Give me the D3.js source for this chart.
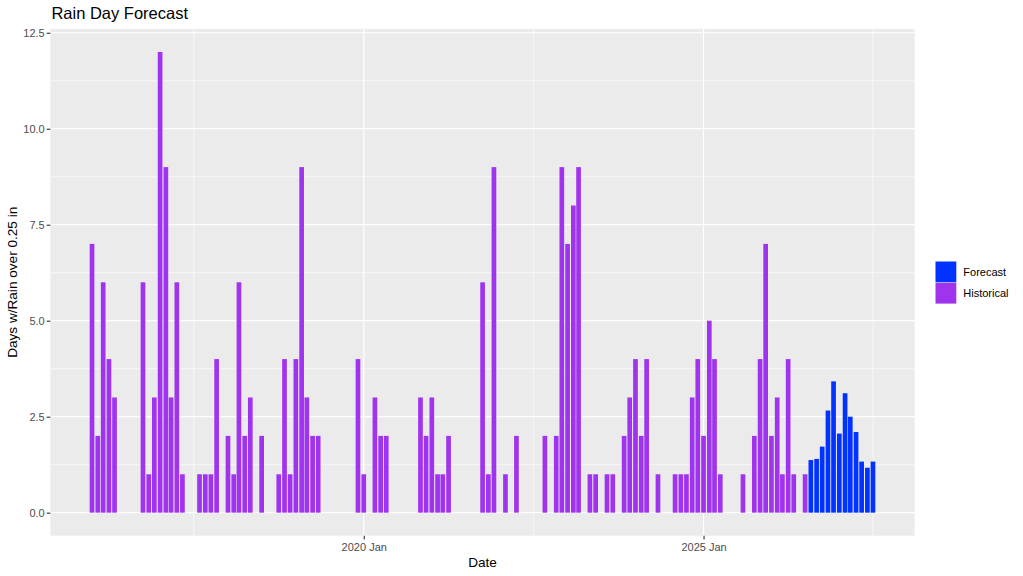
<!DOCTYPE html>
<html>
<head>
<meta charset="utf-8">
<script src="https://cdn.jsdelivr.net/npm/d3@7"></script>
<style>
  body { margin: 0; background: #fff; }
  text { font-family: "Liberation Sans", Arial, sans-serif; }
</style>
</head>
<body>
<div id="chart"></div>
<script>
// monthly rain-day counts
const histMonths = [
  "2016-01", "2016-02", "2016-03", "2016-04", "2016-05",
  "2016-10", "2016-11", "2016-12", "2017-01", "2017-02", "2017-03", "2017-04", "2017-05",
  "2017-08", "2017-09", "2017-10", "2017-11",
  "2018-01", "2018-02", "2018-03", "2018-04", "2018-05",
  "2018-07",
  "2018-10", "2018-11", "2018-12", "2019-01", "2019-02", "2019-03", "2019-04", "2019-05",
  "2019-12", "2020-01",
  "2020-03", "2020-04", "2020-05",
  "2020-11", "2020-12", "2021-01", "2021-02", "2021-03", "2021-04",
  "2021-10", "2021-11", "2021-12",
  "2022-02",
  "2022-04",
  "2022-09",
  "2022-11", "2022-12", "2023-01", "2023-02", "2023-03",
  "2023-05", "2023-06",
  "2023-08", "2023-09",
  "2023-11", "2023-12", "2024-01", "2024-02", "2024-03",
  "2024-05",
  "2024-08", "2024-09", "2024-10", "2024-11", "2024-12", "2025-01", "2025-02", "2025-03", "2025-04",
  "2025-08",
  "2025-10", "2025-11", "2025-12", "2026-01", "2026-02", "2026-03", "2026-04", "2026-05",
  "2026-07"
];
const histValues = [
  7, 2, 6, 4, 3,
  6, 1, 3, 12, 9, 3, 6, 1,
  1, 1, 1, 4,
  2, 1, 6, 2, 3,
  2,
  1, 4, 1, 4, 9, 3, 2, 2,
  4, 1,
  3, 2, 2,
  3, 2, 3, 1, 1, 2,
  6, 1, 9,
  1,
  2,
  2,
  2, 9, 7, 8, 9,
  1, 1,
  1, 1,
  2, 3, 4, 2, 4,
  1,
  1, 1, 1, 3, 4, 2, 5, 4, 1,
  1,
  2, 4, 7, 2, 3, 1, 4, 1,
  1
];
const forecastMonths = [
  "2026-08", "2026-09", "2026-10", "2026-11", "2026-12", "2027-01",
  "2027-02", "2027-03", "2027-04", "2027-05", "2027-06", "2027-07"
];
const forecastValues = [1.37, 1.40, 1.72, 2.66, 3.42, 2.06, 3.11, 2.50, 2.10, 1.33, 1.17, 1.33];

const seriesNames = ["Forecast", "Historical"];
const yTicks = [0, 2.5, 5, 7.5, 10, 12.5];
const yMinorTicks = [1.25, 3.75, 6.25, 8.75, 11.25];
const xTicks = ["2020-01", "2025-01"];
const xMinorTicks = ["2017-07", "2022-07", "2027-07"];

const colors = { Forecast: "#0033FF", Historical: "#A033EE" };

const width = 1023;
const height = 576;
const panel = { left: 50.4, right: 914.6, top: 28.9, bottom: 535.7 };

const parseMonth = d3.utcParse("%Y-%m");
const DAY = 24 * 3600 * 1000;
const barDays = 25.2; // 0.9 * shortest month

const rows = histMonths.map((m, i) => ({ date: parseMonth(m), value: histValues[i], type: "Historical" }))
  .concat(forecastMonths.map((m, i) => ({ date: parseMonth(m), value: forecastValues[i], type: "Forecast" })));

const svg = d3.select('#chart')
  .append('svg')
  .attr('width', width)
  .attr('height', height)
  .attr('viewBox', [0, 0, width, height]);

// x domain like ggplot: bar extents plus 5% each side
const xMin = d3.min(rows, d => +d.date) - barDays / 2 * DAY;
const xMax = d3.max(rows, d => +d.date) + barDays / 2 * DAY;
const xPad = (xMax - xMin) * 0.05;
const x = d3.scaleUtc()
  .domain([new Date(xMin - xPad), new Date(xMax + xPad)])
  .range([panel.left, panel.right]);

const yMax = d3.max(rows, d => d.value);
const y = d3.scaleLinear()
  .domain([-yMax * 0.05, yMax * 1.05])
  .range([panel.bottom, panel.top]);

svg.append('rect')
  .attr('x', panel.left)
  .attr('y', panel.top)
  .attr('width', panel.right - panel.left)
  .attr('height', panel.bottom - panel.top)
  .attr('fill', '#EBEBEB');

const grid = svg.append('g').attr('stroke', '#fff');
grid.selectAll('.ymin').data(yMinorTicks).join('line')
  .attr('x1', panel.left).attr('x2', panel.right)
  .attr('y1', d => y(d)).attr('y2', d => y(d))
  .attr('stroke-width', 0.6);
grid.selectAll('.xmin').data(xMinorTicks).join('line')
  .attr('x1', d => x(parseMonth(d))).attr('x2', d => x(parseMonth(d)))
  .attr('y1', panel.top).attr('y2', panel.bottom)
  .attr('stroke-width', 0.6);
grid.selectAll('.ymaj').data(yTicks).join('line')
  .attr('x1', panel.left).attr('x2', panel.right)
  .attr('y1', d => y(d)).attr('y2', d => y(d))
  .attr('stroke-width', 1.2);
grid.selectAll('.xmaj').data(xTicks).join('line')
  .attr('x1', d => x(parseMonth(d))).attr('x2', d => x(parseMonth(d)))
  .attr('y1', panel.top).attr('y2', panel.bottom)
  .attr('stroke-width', 1.2);

svg.append('g')
  .selectAll('rect')
  .data(rows)
  .join('rect')
  .attr('x', d => x(new Date(+d.date - barDays / 2 * DAY)))
  .attr('width', d => x(new Date(+d.date + barDays / 2 * DAY)) - x(new Date(+d.date - barDays / 2 * DAY)))
  .attr('y', d => y(d.value))
  .attr('height', d => y(0) - y(d.value))
  .attr('fill', d => colors[d.type]);

function styleAxis(g) {
  g.select('.domain').remove();
  g.selectAll('.tick line').attr('stroke', '#333333').attr('stroke-width', 1.1);
  g.selectAll('.tick text').attr('fill', '#4D4D4D').attr('font-size', '11px')
    .attr('font-family', '"Liberation Sans", Arial, sans-serif');
}

svg.append('g')
  .attr('transform', `translate(${panel.left},0)`)
  .call(d3.axisLeft(y).tickValues(yTicks).tickFormat(d3.format('.1f')).tickSize(3.7).tickPadding(2))
  .call(styleAxis);

svg.append('g')
  .attr('transform', `translate(0,${panel.bottom})`)
  .call(d3.axisBottom(x).tickValues(xTicks.map(parseMonth)).tickFormat(d3.utcFormat('%Y %b')).tickSize(3.7).tickPadding(3.4))
  .call(styleAxis);

svg.append('text')
  .attr('x', panel.left + 1)
  .attr('y', 19)
  .attr('font-size', '16.5px')
  .attr('fill', '#000')
  .text('Rain Day Forecast');

svg.append('text')
  .attr('x', (panel.left + panel.right) / 2)
  .attr('y', 566.5)
  .attr('text-anchor', 'middle')
  .attr('font-size', '13.6px')
  .attr('fill', '#000')
  .text('Date');

svg.append('text')
  .attr('transform', `translate(17.3,${(panel.top + panel.bottom) / 2}) rotate(-90)`)
  .attr('text-anchor', 'middle')
  .attr('font-size', '13.6px')
  .attr('fill', '#000')
  .text('Days w/Rain over 0.25 in');

const legend = svg.append('g').attr('transform', 'translate(935.5,261.5)');
const keySize = 20.8;
legend.selectAll('rect')
  .data(seriesNames)
  .join('rect')
  .attr('x', 0)
  .attr('y', (d, i) => i * (keySize + 0.5))
  .attr('width', keySize)
  .attr('height', keySize)
  .attr('fill', d => colors[d]);
legend.selectAll('text')
  .data(seriesNames)
  .join('text')
  .attr('x', keySize + 7)
  .attr('y', (d, i) => i * (keySize + 0.5) + keySize / 2)
  .attr('dy', '0.35em')
  .attr('font-size', '11px')
  .attr('fill', '#000')
  .text(d => d);
</script>
</body>
</html>
